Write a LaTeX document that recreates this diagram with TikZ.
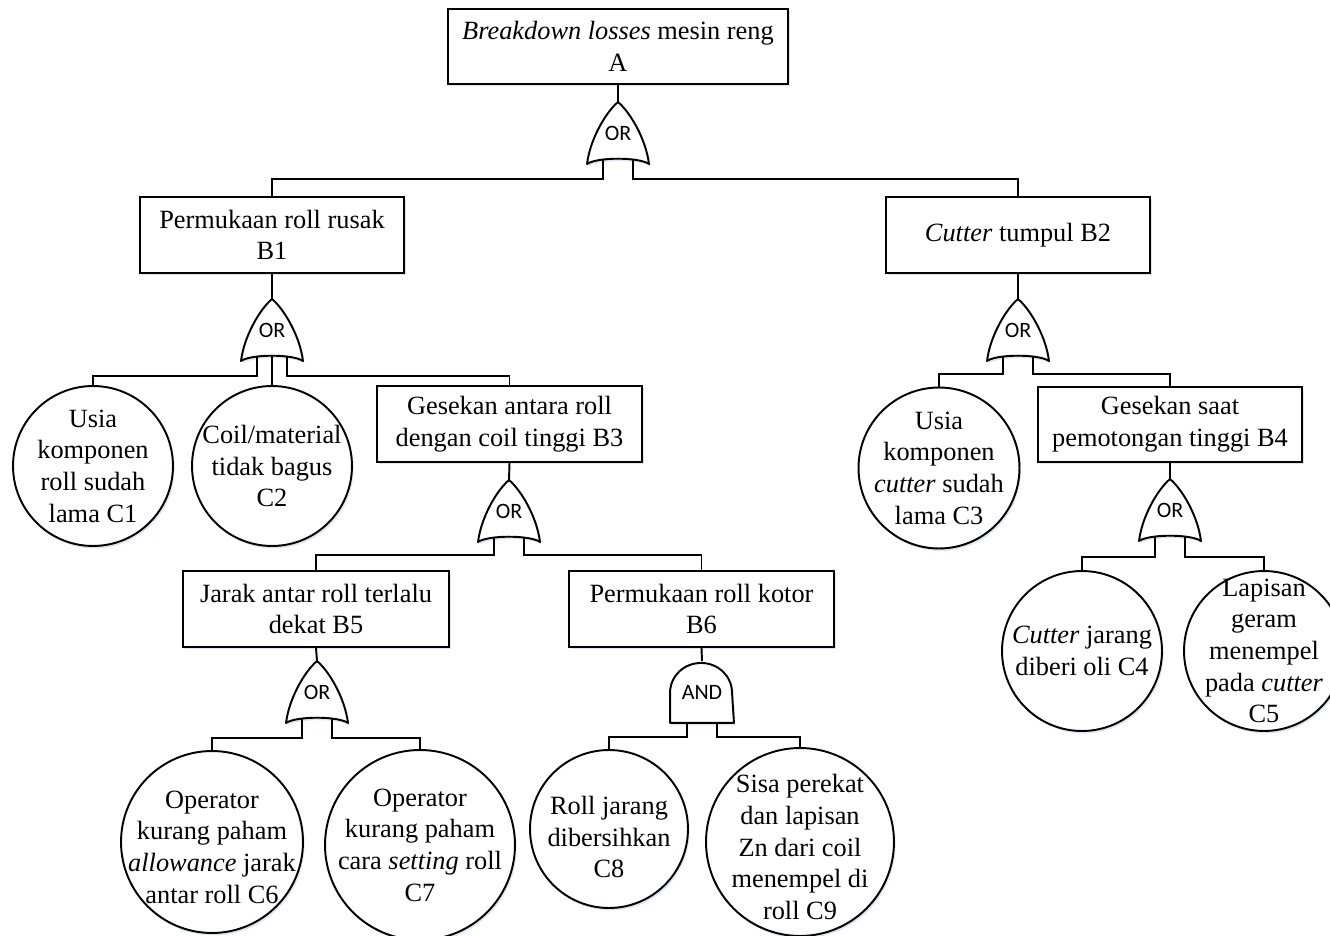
\documentclass[tikz,border=0pt]{standalone}
\usepackage{fontspec}
\setmainfont{Liberation Serif}
\newfontfamily\gatefont{Carlito}
\usetikzlibrary{calc,shadows}
\definecolor{shadowblue}{RGB}{218,230,245}
\newcommand\ORshape[1]{%
  \draw[line join=round, fill=white, shad] (#1.north) .. controls +(12,10) and +(-3,-25) .. (#1.south east)
    .. controls +(-10,-7) and +(10,-7) .. (#1.south west)
    .. controls +(3,-25) and +(-12,10) .. (#1.north) -- cycle;}
\newcommand\ANDshape[1]{%
  \draw[line join=round, fill=white, shad] (#1.south west) -- ++(0,-30)
    .. controls +(0,-17) and +(-17,0) .. ++(31,-30)
    .. controls +(17,0) and +(0,-17) .. ++(31,30)
    -- (#1.south east) -- cycle;}
\begin{document}
\begin{tikzpicture}[x=0.02cm,y=-0.02cm,
  line width=1.1pt,
  shad/.style={drop shadow={shadow xshift=0.9pt, shadow yshift=-1.4pt, fill=shadowblue, draw=none, opacity=1}},
  every node/.style={font=\fontsize{15}{18}\selectfont, align=center},
  evt/.style={draw, fill=white, shad, rectangle, minimum width=264*0.2mm, minimum height=76*0.2mm, inner sep=0pt},
  basic/.style={draw, fill=white, shad, circle, minimum size=#1*0.2mm, inner sep=0pt},
  gate/.style={minimum width=60*0.2mm, minimum height=60*0.2mm, inner sep=0pt,
    font=\gatefont\fontsize{12.5}{14}\selectfont},
  andgate/.style={gate, minimum width=62*0.2mm},
  ctext/.style={align=center, inner sep=0pt}
]
\useasboundingbox (0,0) rectangle (1330,936);

% events
\node[evt, minimum width=340*0.2mm, minimum height=75*0.2mm] (A) at (618,46.5)
  {\textit{Breakdown losses} mesin reng\\A};
\node[evt] (B1) at (272,235) {Permukaan roll rusak\\B1};
\node[evt] (B2) at (1018,235) {\textit{Cutter} tumpul B2};
\node[evt, minimum width=265*0.2mm] (B3) at (509.5,424) {Gesekan antara roll\\dengan coil tinggi B3};
\node[evt, minimum height=75*0.2mm] (B4) at (1170,424.5) {Gesekan saat\\pemotongan tinggi B4};
\node[evt, minimum width=266*0.2mm] (B5) at (316,609) {Jarak antar roll terlalu\\dekat B5};
\node[evt, minimum width=265*0.2mm] (B6) at (701.5,609) {Permukaan roll kotor\\B6};

% basic events
\node[basic=160, label={[ctext]center:{Usia\\komponen\\roll sudah\\lama C1}}] (C1) at (93,466) {};
\node[basic=160, label={[ctext]center:{Coil/material\\tidak bagus\\C2}}] (C2) at (272,466) {};
\node[basic=161, label={[ctext]center:{Usia\\komponen\\\textit{cutter} sudah\\lama C3}}] (C3) at (939,468) {};
\node[basic=160, label={[ctext]center:{\textit{Cutter} jarang\\diberi oli C4}}] (C4) at (1082,651) {};
\node[basic=160, label={[ctext]center:{Lapisan\\geram\\menempel\\pada \textit{cutter}\\C5}}] (C5) at (1264,651) {};
\node[basic=182, label={[ctext, yshift=-1mm]center:{Operator\\kurang paham\\\textit{allowance} jarak\\antar roll C6}}] (C6) at (212,842) {};
\node[basic=190, label={[ctext]center:{Operator\\kurang paham\\cara \textit{setting} roll\\C7}}] (C7) at (420,845) {};
\node[basic=158, label={[ctext, yshift=-1.6mm]center:{Roll jarang\\dibersihkan\\C8}}] (C8) at (609,829) {};
\node[basic=188, label={[ctext, yshift=-1mm]center:{Sisa perekat\\dan lapisan\\Zn dari coil\\menempel di\\roll C9}}] (C9) at (800,842) {};

% gate outlines (drawn first, the labels come on top)
\node[gate] (gA) at (618,133) {};
\node[gate] (gB1) at (272,330) {};
\node[gate] (gB2) at (1018,330) {};
\node[gate] (gB3) at (509,511) {};
\node[gate] (gB4) at (1170,510) {};
\node[gate] (gB5) at (317,692) {};
\node[andgate] (gB6) at (702,692) {};
\ORshape{gA}
\ORshape{gB1}
\ORshape{gB2}
\ORshape{gB3}
\ORshape{gB4}
\ORshape{gB5}
\ANDshape{gB6}
\node[gate] (tA) at (gA) {OR};
\node[gate] (tB1) at (gB1) {OR};
\node[gate] (tB2) at (gB2) {OR};
\node[gate] (tB3) at (gB3) {OR};
\node[gate] (tB4) at (gB4) {OR};
\node[gate] (tB5) at (gB5) {OR};
\node[andgate] (tB6) at (gB6) {AND};

% stems
\draw (A.south) -- (gA.north);
\draw (B1.south) -- (gB1.north);
\draw (B2.south) -- (gB2.north);
\draw (B3.south) -- (gB3.north);
\draw (B4.south) -- (gB4.north);
\draw (B5.south) -- (gB5.north);
\draw (B6.south) -- (gB6.north);

% connectors
\draw ($(gA.south)+(-15,-4)$) -- ++(0,19) -| (B1.north);
\draw ($(gA.south)+(15,-4)$) -- ++(0,19) -| (B2.north);

\draw ($(gB1.south)+(-15,-4)$) -- ++(0,19) -| (C1.north);
\draw ($(gB1.south)+(0,-5)$) -- (C2.north);
\draw ($(gB1.south)+(15,-4)$) -- ++(0,19) -| (B3.north);

\draw ($(gB2.south)+(-15,-4)$) -- ++(0,17) -| (C3.north);
\draw ($(gB2.south)+(15,-4)$) -- ++(0,17) -| (B4.north);

\draw ($(gB3.south)+(-15,-4)$) -- ++(0,17) -| (B5.north);
\draw ($(gB3.south)+(15,-4)$) -- ++(0,17) -| (B6.north);

\draw ($(gB4.south)+(-15,-4)$) -- ++(0,20) -| (C4.north);
\draw ($(gB4.south)+(15,-4)$) -- ++(0,20) -| (C5.north);

\draw ($(gB5.south)+(-15,-4)$) -- ++(0,19) -| (C6.north);
\draw ($(gB5.south)+(15,-4)$) -- ++(0,19) -| (C7.north);

\draw ($(gB6.south)+(-15,0)$) -- ++(0,14) -| (C8.north);
\draw ($(gB6.south)+(15,0)$) -- ++(0,14) -| (C9.north);
\end{tikzpicture}
\end{document}
